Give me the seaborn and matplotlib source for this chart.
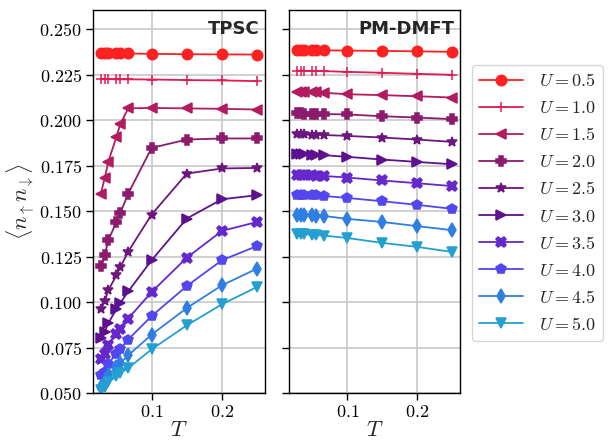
import numpy as np
import pandas as pd
import matplotlib
matplotlib.use("Agg")
import matplotlib.pyplot as plt
from matplotlib.ticker import FuncFormatter, FixedLocator
import seaborn as sns

# ---------------- data ----------------
T = [0.0278, 0.0333, 0.0385, 0.05, 0.0556, 0.0667, 0.1, 0.15, 0.2, 0.25]
U_values = [0.5, 1.0, 1.5, 2.0, 2.5, 3.0, 3.5, 4.0, 4.5, 5.0]

tpsc_U05 = [0.2367, 0.2367, 0.2366, 0.2366, 0.2366, 0.2366, 0.2364, 0.2362, 0.2361, 0.2360]
tpsc_U10 = [0.2225, 0.2225, 0.2225, 0.2224, 0.2224, 0.2224, 0.2223, 0.2220, 0.2218, 0.2214]
tpsc_U15 = [0.1596, 0.1680, 0.1772, 0.1908, 0.1980, 0.2064, 0.2067, 0.2064, 0.2062, 0.2058]
tpsc_U20 = [0.1197, 0.1257, 0.1340, 0.1440, 0.1490, 0.1596, 0.1847, 0.1893, 0.1899, 0.1899]
tpsc_U25 = [0.0959, 0.1005, 0.1065, 0.1147, 0.1192, 0.1277, 0.1481, 0.1706, 0.1734, 0.1737]
tpsc_U30 = [0.0805, 0.0836, 0.0885, 0.0960, 0.0995, 0.1058, 0.1230, 0.1459, 0.1565, 0.1587]
tpsc_U35 = [0.0686, 0.0713, 0.0765, 0.0827, 0.0854, 0.0909, 0.1055, 0.1244, 0.1391, 0.1440]
tpsc_U40 = [0.0597, 0.0615, 0.0662, 0.0717, 0.0744, 0.0794, 0.0923, 0.1088, 0.1230, 0.1308]
tpsc_U45 = [0.0533, 0.0552, 0.0597, 0.0643, 0.0665, 0.0707, 0.0821, 0.0967, 0.1092, 0.1184]
tpsc_U50 = [0.0515, 0.0535, 0.0558, 0.0592, 0.0610, 0.0637, 0.0740, 0.0872, 0.0988, 0.1083]

dmft_U05 = [0.2385, 0.2385, 0.2384, 0.2384, 0.2384, 0.2383, 0.2382, 0.2380, 0.2378, 0.2375]
dmft_U10 = [0.2272, 0.2271, 0.2271, 0.2270, 0.2270, 0.2269, 0.2265, 0.2260, 0.2254, 0.2249]
dmft_U15 = [0.2157, 0.2156, 0.2155, 0.2153, 0.2152, 0.2150, 0.2142, 0.2137, 0.2131, 0.2124]
dmft_U20 = [0.2038, 0.2037, 0.2036, 0.2035, 0.2034, 0.2033, 0.2031, 0.2021, 0.2014, 0.2005]
dmft_U25 = [0.1923, 0.1922, 0.1921, 0.1920, 0.1919, 0.1918, 0.1913, 0.1904, 0.1893, 0.1880]
dmft_U30 = [0.1813, 0.1812, 0.1811, 0.1810, 0.1809, 0.1807, 0.1798, 0.1783, 0.1770, 0.1757]
dmft_U35 = [0.1699, 0.1698, 0.1697, 0.1696, 0.1695, 0.1693, 0.1684, 0.1668, 0.1653, 0.1637]
dmft_U40 = [0.1590, 0.1589, 0.1588, 0.1587, 0.1586, 0.1583, 0.1572, 0.1554, 0.1534, 0.1512]
dmft_U45 = [0.1480, 0.1479, 0.1478, 0.1477, 0.1475, 0.1473, 0.1457, 0.1440, 0.1417, 0.1395]
dmft_U50 = [0.1374, 0.1373, 0.1372, 0.1370, 0.1368, 0.1365, 0.1352, 0.1325, 0.1303, 0.1275]

tpsc = [tpsc_U05, tpsc_U10, tpsc_U15, tpsc_U20, tpsc_U25,
        tpsc_U30, tpsc_U35, tpsc_U40, tpsc_U45, tpsc_U50]
dmft = [dmft_U05, dmft_U10, dmft_U15, dmft_U20, dmft_U25,
        dmft_U30, dmft_U35, dmft_U40, dmft_U45, dmft_U50]

panel_titles = ["TPSC", "PM-DMFT"]
x_ticks = [0.1, 0.2]
y_ticks = [0.050, 0.075, 0.100, 0.125, 0.150, 0.175, 0.200, 0.225, 0.250]

# ---------------- style ----------------
colors = ["#ff2121", "#e31a52", "#b21c5e", "#8c1b6e", "#6c167e",
          "#5d1190", "#6528cc", "#5246ee", "#2f7fe2", "#249fd2"]
markers = ["o", "+", "<", "P", "*", ">", "X", "p", "d", "v"]

sns.set_style("whitegrid")
plt.rcParams.update({
    "mathtext.fontset": "cm",
    "axes.edgecolor": "black",
    "axes.linewidth": 1.0,
    "grid.color": "#c8c8c8",
    "grid.linewidth": 1.2,
    "xtick.bottom": True,
    "ytick.left": True,
    "xtick.major.size": 5,
    "ytick.major.size": 5,
    "xtick.major.width": 1.0,
    "ytick.major.width": 1.0,
    "xtick.major.pad": 2.5,
    "ytick.major.pad": 3,
    "xtick.color": "black",
    "ytick.color": "black",
})

fig = plt.figure(figsize=(6.09, 4.41), dpi=100)
ax1 = fig.add_axes([93 / 609, 1 - 393 / 441, 172 / 609, 383 / 441])
ax2 = fig.add_axes([289 / 609, 1 - 393 / 441, 171 / 609, 383 / 441], sharey=ax1, sharex=ax1)

for ax, data, title in zip([ax1, ax2], [tpsc, dmft], panel_titles):
    for u, vals, c, m in zip(U_values, data, colors, markers):
        df = pd.DataFrame({"T": T, "d": vals})
        ms = 6.5 if m == "+" else 7.5
        sns.lineplot(data=df, x="T", y="d", ax=ax, color=c, marker=m,
                     markersize=ms, markeredgecolor=c, markerfacecolor=c,
                     markeredgewidth=1.1, linewidth=1.3,
                     label=f"$U = {u}$", legend=False)
    leg = ax.get_legend()
    if leg is not None:
        leg.remove()
    ax.text(0.97, 0.975, title, transform=ax.transAxes, ha="right", va="top",
            fontsize=13, fontweight="bold", family="DejaVu Sans")
    ax.set_xlabel("$T$", fontsize=16, labelpad=-1)
    ax.xaxis.set_major_locator(FixedLocator(x_ticks))
    ax.xaxis.set_major_formatter(FuncFormatter(lambda v, p: f"${v:.1f}$"))
    ax.tick_params(labelsize=13)
    for s in ax.spines.values():
        s.set_color("black")
        s.set_linewidth(1.0)

ax1.set_ylim(0.05, 0.2605)
ax1.yaxis.set_major_locator(FixedLocator(y_ticks))
ax1.yaxis.set_major_formatter(FuncFormatter(lambda v, p: f"${v:.3f}$"))
ax1.set_ylabel(r"$\langle n_{\uparrow} n_{\downarrow} \rangle$", fontsize=16, labelpad=2)
ax2.set_ylabel("")
plt.setp(ax2.get_yticklabels(), visible=False)

handles, labels = ax1.get_legend_handles_labels()
fig.legend(handles, labels, loc="center left",
           bbox_to_anchor=(472 / 609, 1 - 203 / 441), borderaxespad=0,
           fontsize=13, frameon=True, fancybox=True, edgecolor="#cccccc",
           labelspacing=0.5, handlelength=2.4, borderpad=0.4, handletextpad=0.9)

fig.savefig("out.png", dpi=100)
